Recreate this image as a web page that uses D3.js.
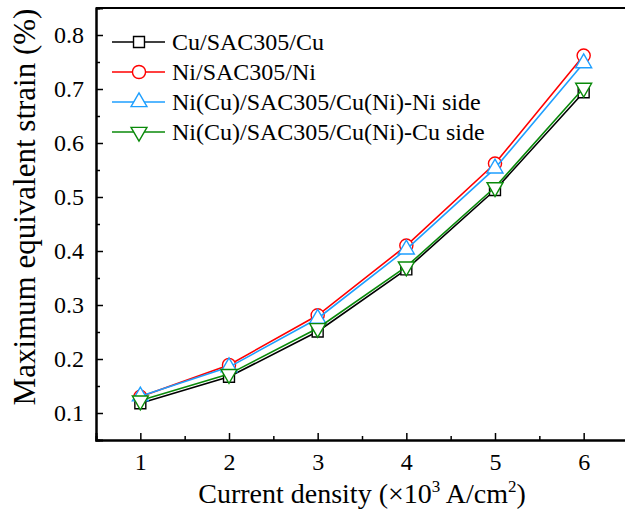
<!DOCTYPE html>
<html>
<head>
<meta charset="utf-8">
<script src="https://cdn.jsdelivr.net/npm/d3@7"></script>
<style>
  body { margin: 0; background: #fff; }
</style>
</head>
<body>
<svg id="chart" width="625" height="512"></svg>
<script>
// data
var densities = [1, 2, 3, 4, 5, 6];
var cuCu = [0.118, 0.167, 0.251, 0.366, 0.513, 0.694];
var niNi = [0.130, 0.189, 0.281, 0.410, 0.562, 0.762];
var mixNiSide = [0.131, 0.185, 0.275, 0.403, 0.553, 0.748];
var mixCuSide = [0.123, 0.172, 0.257, 0.371, 0.518, 0.702];
var yTicks = [0.1, 0.2, 0.3, 0.4, 0.5, 0.6, 0.7, 0.8];

var serif = "'Liberation Serif', 'Times New Roman', serif";

var series = [
    {name: "Cu/SAC305/Cu", values: cuCu, color: "#000000", symbol: d3.symbolSquare, size: 120, rot: 0},
    {name: "Ni/SAC305/Ni", values: niNi, color: "#ff0000", symbol: d3.symbolCircle, size: 135, rot: 0},
    {name: "Ni(Cu)/SAC305/Cu(Ni)-Ni side", values: mixNiSide, color: "#1e9fff", symbol: d3.symbolTriangle, size: 110, rot: 0},
    {name: "Ni(Cu)/SAC305/Cu(Ni)-Cu side", values: mixCuSide, color: "#0a8a0a", symbol: d3.symbolTriangle, size: 110, rot: 180}
];

var svg = d3.select("#chart"),
    margin = {left: 96, top: 8, right: -3, bottom: 72},
    width = 625 - margin.left - margin.right,
    height = 512 - margin.top - margin.bottom;

var x = d3.scaleLinear().domain([0.5, 6.5]).range([0, width]);
var y = d3.scaleLinear().domain([0.05, 0.85]).range([height, 0]);

var g = svg.append("g").attr("transform", "translate(" + margin.left + "," + margin.top + ")");

// axes with inward ticks
g.append("g").attr("transform", "translate(0," + height + ")")
    .call(d3.axisBottom(x).tickValues(densities).tickSize(-7).tickPadding(13).tickFormat(d3.format("d")));
g.append("g").attr("transform", "translate(0," + height + ")")
    .call(d3.axisBottom(x).tickValues(d3.range(1.5, 6.5, 1)).tickSize(-4).tickFormat(""));
g.append("g")
    .call(d3.axisLeft(y).tickValues(yTicks).tickSize(-7).tickPadding(12).tickFormat(d3.format(".1f")));
g.append("g")
    .call(d3.axisLeft(y).tickValues(d3.range(0.15, 0.85, 0.1)).tickSize(-4).tickFormat(""));

g.selectAll(".domain").attr("stroke", "#000").attr("stroke-width", 2);
g.selectAll(".tick line").attr("stroke", "#000").attr("stroke-width", 1.5);
g.selectAll(".tick text").attr("font-size", 24).attr("fill", "#000")
    .style("font-family", serif);

// top and right frame
g.append("line").attr("x1", 0).attr("x2", width).attr("y1", 0).attr("y2", 0)
    .attr("stroke", "#000").attr("stroke-width", 2);
g.append("line").attr("x1", width).attr("x2", width).attr("y1", 0).attr("y2", height)
    .attr("stroke", "#000").attr("stroke-width", 2);

var line = d3.line()
    .x(function (d, i) { return x(densities[i]); })
    .y(function (d) { return y(d); });

series.forEach(function (s) {
    g.append("path")
        .datum(s.values)
        .attr("fill", "none")
        .attr("stroke", s.color)
        .attr("stroke-width", 1.6)
        .attr("d", line);
    g.selectAll(null)
        .data(s.values)
        .enter()
        .append("path")
        .attr("d", d3.symbol().type(s.symbol).size(s.size))
        .attr("transform", function (d, i) {
            return "translate(" + x(densities[i]) + "," + y(d) + ") rotate(" + s.rot + ")";
        })
        .attr("fill", "#fff")
        .attr("stroke", s.color)
        .attr("stroke-width", 1.4);
});

// legend
var legend = g.append("g").attr("transform", "translate(16,34)");
series.forEach(function (s, i) {
    var row = legend.append("g").attr("transform", "translate(0," + (i * 30) + ")");
    row.append("line").attr("x1", 0).attr("x2", 53).attr("y1", 0).attr("y2", 0)
        .attr("stroke", s.color).attr("stroke-width", 1.6);
    row.append("path")
        .attr("d", d3.symbol().type(s.symbol).size(s.size))
        .attr("transform", "translate(27,0) rotate(" + s.rot + ")")
        .attr("fill", "#fff")
        .attr("stroke", s.color)
        .attr("stroke-width", 1.4);
    row.append("text")
        .attr("x", 60).attr("y", 8)
        .style("font-family", serif)
        .style("font-size", "24px")
        .text(s.name);
});

// axis titles
svg.append("text")
    .attr("x", margin.left + x(3.5)).attr("y", 503)
    .attr("text-anchor", "middle")
    .style("font-family", serif)
    .style("font-size", "28px")
    .html("Current density (×10<tspan dy='-11' font-size='17'>3</tspan><tspan dy='11'> A/cm</tspan><tspan dy='-11' font-size='17'>2</tspan><tspan dy='11'>)</tspan>");

svg.append("text")
    .attr("transform", "translate(35,207) rotate(-90)")
    .attr("text-anchor", "middle")
    .style("font-family", serif)
    .style("font-size", "31px")
    .text("Maximum equivalent strain (%)");
</script>
</body>
</html>
